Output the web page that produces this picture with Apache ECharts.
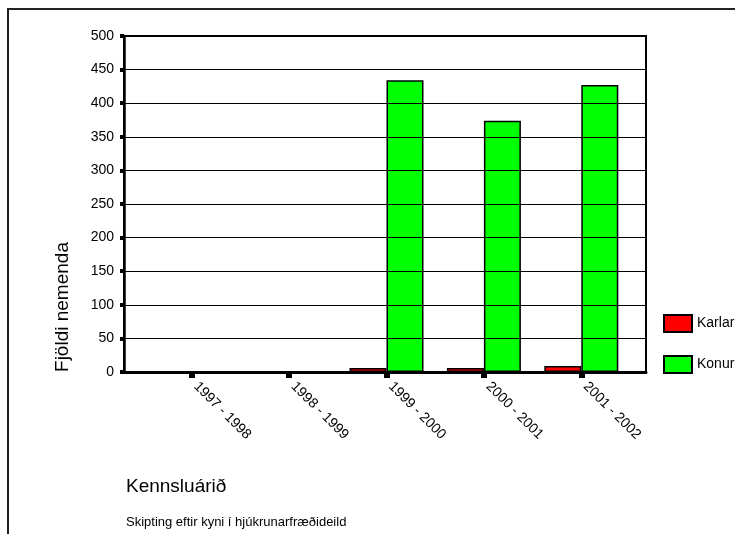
<!DOCTYPE html>
<html>
<head>
<meta charset="utf-8">
<script src="https://cdn.jsdelivr.net/npm/echarts@6/dist/echarts.min.js"></script>
<style>
html,body{margin:0;padding:0;background:#fff;}
#c{width:735px;height:534px;}
</style>
</head>
<body>
<div id="c"></div>
<script>
const categories = ['1997 - 1998', '1998 - 1999', '1999 - 2000', '2000 - 2001', '2001 - 2002'];
const karlar = [0, 0, 6, 6, 9];
const konur = [0, 0, 434, 374, 427];
const yMin = 0, yMax = 500, yStep = 50;
const yTitle = 'Fjöldi nemenda';
const xTitle = 'Kennsluárið';
const subTitle = 'Skipting eftir kyni í hjúkrunarfræðideild';

const FONT = "'Liberation Sans', Arial, Helvetica, sans-serif";
const chart = echarts.init(document.getElementById('c'), null, {renderer: 'canvas'});

chart.setOption({
  backgroundColor: '#fff',
  animation: false,
  textStyle: {fontFamily: FONT},
  grid: [
    {left: 124, right: 89, top: 36, bottom: 162, show: true, borderColor: '#000', borderWidth: 2, backgroundColor: 'transparent'},
    {left: 143, right: 105, top: 36, bottom: 162}
  ],
  legend: {
    data: ['Karlar', 'Konur'],
    orient: 'vertical',
    left: 658, top: 309,
    itemWidth: 28, itemHeight: 17, itemGap: 22,
    icon: 'rect',
    textStyle: {fontSize: 14, color: '#000', fontFamily: FONT}
  },
  xAxis: [
    {gridIndex: 0, type: 'category', data: categories, z: 5,
     axisLine: {show: true, lineStyle: {color: '#000', width: 3}},
     axisTick: {show: false}, axisLabel: {show: false}, splitLine: {show: false}},
    {gridIndex: 1, type: 'category', data: categories, z: 6,
     axisLine: {show: false},
     axisTick: {show: true, alignWithLabel: true, length: 6, lineStyle: {color: '#000', width: 6}},
     axisLabel: {show: true, rotate: -45, margin: 8, fontSize: 14, color: '#000', fontFamily: FONT, interval: 0,
                 padding: [0, 0, 0, 6]},
     splitLine: {show: false}}
  ],
  yAxis: [
    {gridIndex: 0, type: 'value', min: yMin, max: yMax, interval: yStep, z: 5,
     axisLine: {show: true, lineStyle: {color: '#000', width: 2.5}},
     axisTick: {show: true, length: 4, lineStyle: {color: '#000', width: 4}},
     axisLabel: {show: true, margin: 10, fontSize: 14, color: '#000', fontFamily: FONT},
     splitLine: {show: true, lineStyle: {color: '#000', width: 1}}},
    {gridIndex: 1, type: 'value', min: yMin, max: yMax, interval: yStep, show: false,
     splitLine: {show: false}}
  ],
  series: [
    {name: 'Karlar', type: 'bar', xAxisIndex: 1, yAxisIndex: 1, data: karlar,
     barWidth: 37, barGap: '0%',
     itemStyle: {color: '#ff0000', borderColor: '#000', borderWidth: 1.5}},
    {name: 'Konur', type: 'bar', xAxisIndex: 1, yAxisIndex: 1, data: konur,
     barWidth: 37, barGap: '0%',
     itemStyle: {color: '#00ff00', borderColor: '#000', borderWidth: 1.5}}
  ],
  graphic: [
    {type: 'rect', shape: {x: 8, y: 9, width: 760, height: 560}, silent: true,
     style: {fill: 'none', stroke: '#222', lineWidth: 2}},
    {type: 'text', x: 63, y: 307, rotation: Math.PI / 2,
     style: {text: yTitle, font: "19px " + FONT, fill: '#000', textAlign: 'center', textVerticalAlign: 'middle'}},
    {type: 'text', x: 126, y: 487,
     style: {text: xTitle, font: "19px " + FONT, fill: '#000', textAlign: 'left', textVerticalAlign: 'middle'}},
    {type: 'text', x: 126, y: 522,
     style: {text: subTitle, font: "13px " + FONT, fill: '#000', textAlign: 'left', textVerticalAlign: 'middle'}}
  ]
});
</script>
</body>
</html>
